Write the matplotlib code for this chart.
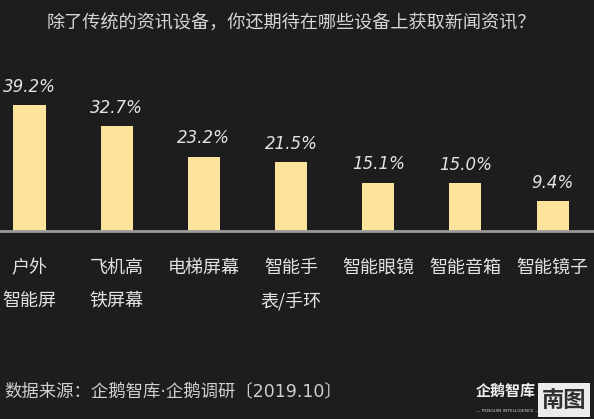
import matplotlib
matplotlib.use("Agg")
import matplotlib.pyplot as plt
from matplotlib.patches import Rectangle

plt.rcParams['font.family'] = ['Noto Sans CJK SC', 'DejaVu Sans']

title = "除了传统的资讯设备，你还期待在哪些设备上获取新闻资讯？"
categories = ["户外\n智能屏", "飞机高\n铁屏幕", "电梯屏幕", "智能手\n表/手环", "智能眼镜", "智能音箱", "智能镜子"]
values = [39.2, 32.7, 23.2, 21.5, 15.1, 15.0, 9.4]
value_labels = ["39.2%", "32.7%", "23.2%", "21.5%", "15.1%", "15.0%", "9.4%"]
source = "数据来源：企鹅智库·企鹅调研〔2019.10〕"

BG = "#1d1d1d"
BAR = "#fde49c"
TXT = "#e2e2e2"

W, H = 594, 419
fig = plt.figure(figsize=(W / 100, H / 100), dpi=100, facecolor=BG)

# axes: bottom (baseline) at y=231 px from top, top at 60 px
ax_bottom = (H - 231) / H
ax_top = (H - 60) / H
ax = fig.add_axes([0, ax_bottom, 1, ax_top - ax_bottom])
ax.set_facecolor(BG)
px_per_cat = 87.17
x0 = -29.5 / px_per_cat
ax.set_xlim(x0, x0 + W / px_per_cat)
ax.set_ylim(0, 171 / 3.21)
for s in ax.spines.values():
    s.set_visible(False)
ax.set_xticks([])
ax.set_yticks([])

xs = list(range(len(categories)))
ax.bar(xs, values, width=32 / px_per_cat, color=BAR, zorder=2)
ax.axhline(0, color="#9a9a9a", lw=2.0, zorder=3, clip_on=False)

for x, v, lab in zip(xs, values, value_labels):
    ax.annotate(lab, xy=(x, v), xytext=(0, 13), textcoords="offset points",
                ha="center", va="center", fontsize=12, style="italic",
                color=TXT, family=["DejaVu Sans"], annotation_clip=False)

for x, cat in zip(xs, categories):
    lines = cat.split("\n")
    for k, line in enumerate(lines):
        ax.annotate(line, xy=(x, 0), xytext=(0, -(37 + 33 * k) * 0.72),
                    textcoords="offset points", ha="center", va="center",
                    fontsize=13, color=TXT, annotation_clip=False)

fig.text(0.49, 1 - 23 / H, title, ha="center", va="center",
         fontsize=13.1, color="#d6d6d6")

fig.text(4 / W, 1 - 392 / H, source, ha="left", va="center",
         fontsize=12.5, color="#cfcfcf", family=["DejaVu Sans", "Noto Sans CJK SC"])

# logo
fig.text(476 / W, 1 - 391 / H, "企鹅智库", ha="left", va="center",
         fontsize=10.8, fontweight="bold", color="#f0f0f0")
fig.text(508 / W, 1 - 411 / H, "— PENGUIN INTELLIGENCE —", ha="center", va="center",
         fontsize=3.2, color="#cfcfcf", family=["DejaVu Sans"])
fig.patches.append(Rectangle((538 / W, (H - 417) / H), 52 / W, 34 / H,
                             transform=fig.transFigure, facecolor="#ececec",
                             edgecolor="none", zorder=5))
fig.text(564 / W, 1 - 400 / H, "南图", ha="center", va="center",
         fontsize=16, fontweight="bold", color="#303030", zorder=6)

fig.savefig("out.png", dpi=100, facecolor=BG)
